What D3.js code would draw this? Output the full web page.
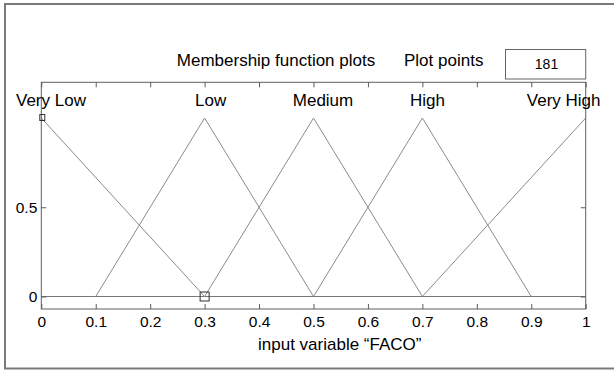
<!DOCTYPE html>
<html>
<head>
<meta charset="utf-8">
<script src="https://cdn.jsdelivr.net/npm/d3@7"></script>
<style>
  html, body { margin: 0; padding: 0; background: #fff; }
  svg { display: block; font-family: Arial, "Liberation Sans", sans-serif; }
</style>
</head>
<body>
<svg id="chart" width="614" height="372"></svg>
<script>
// Membership functions of input variable FACO (triangular: [a, b, c])
const mfNames = ["Very Low", "Low", "Medium", "High", "Very High"];
const mfA = [-0.3, 0.1, 0.3, 0.5, 0.7];
const mfB = [0, 0.3, 0.5, 0.7, 1];
const mfC = [0.3, 0.5, 0.7, 0.9, 1.3];

const xTicks = [0, 0.1, 0.2, 0.3, 0.4, 0.5, 0.6, 0.7, 0.8, 0.9, 1];
const xTickLabels = ["0", "0.1", "0.2", "0.3", "0.4", "0.5", "0.6", "0.7", "0.8", "0.9", "1"];
const yTicks = [0, 0.5];
const yTickLabels = ["0", "0.5"];

const plotPoints = 181;
const selectedMF = 0;

const svg = d3.select("#chart");
const FONT = 17;

// outer panel frame
svg.append("rect")
  .attr("x", 5).attr("y", 4).attr("width", 640).attr("height", 364.5)
  .attr("fill", "none").attr("stroke", "#7a7a7a").attr("stroke-width", 2);

const pLeft = 41.3, pRight = 585.7, pTop = 82.3, pBottom = 309;
const x = d3.scaleLinear().domain([0, 1]).range([pLeft, pRight]);
const y = d3.scaleLinear().domain([-0.07, 1.2]).range([pBottom, pTop]);

// header
svg.append("text").attr("x", 276).attr("y", 66).attr("text-anchor", "middle")
  .attr("font-size", FONT).text("Membership function plots");
svg.append("text").attr("x", 443.7).attr("y", 66).attr("text-anchor", "middle")
  .attr("font-size", FONT).text("Plot points");
svg.append("rect").attr("x", 505.5).attr("y", 49.5).attr("width", 80.2).attr("height", 29.5)
  .attr("fill", "#fff").attr("stroke", "#666").attr("stroke-width", 1);
svg.append("text").attr("x", 546.5).attr("y", 68.5).attr("text-anchor", "middle")
  .attr("font-size", 14).text(plotPoints);

svg.append("defs").append("clipPath").attr("id", "plotclip")
  .append("rect").attr("x", pLeft).attr("y", pTop).attr("width", pRight - pLeft).attr("height", pBottom - pTop);

const g = svg.append("g");

// zero baseline
g.append("line")
  .attr("x1", x(0)).attr("x2", x(1)).attr("y1", y(0)).attr("y2", y(0))
  .attr("stroke", "#777").attr("stroke-width", 1);

// triangular membership functions
const line = d3.line().x(d => x(d[0])).y(d => y(d[1]));
const mfData = mfNames.map((name, i) => ({
  name, pts: [[mfA[i], 0], [mfB[i], 1], [mfC[i], 0]]
}));
g.append("g").attr("clip-path", "url(#plotclip)")
  .selectAll("path").data(mfData).join("path")
  .attr("d", d => line(d.pts))
  .attr("fill", "none").attr("stroke", "#8a8a8a").attr("stroke-width", 1);

// axes box with inward ticks
const tickLen = 5;
g.append("rect").attr("x", pLeft).attr("y", pTop).attr("width", pRight - pLeft).attr("height", pBottom - pTop)
  .attr("fill", "none").attr("stroke", "#5e5e5e").attr("stroke-width", 1);
const xAxisBottom = d3.axisBottom(x).tickValues(xTicks).tickSizeInner(-tickLen).tickSizeOuter(0)
  .tickPadding(7).tickFormat((d, i) => xTickLabels[i]);
const xb = g.append("g").attr("transform", `translate(0,${pBottom})`).call(xAxisBottom);
const xAxisTop = d3.axisTop(x).tickValues(xTicks).tickSizeInner(-tickLen).tickSizeOuter(0).tickFormat("");
const xt = g.append("g").attr("transform", `translate(0,${pTop})`).call(xAxisTop);
const yAxisLeft = d3.axisLeft(y).tickValues(yTicks).tickSizeInner(-tickLen).tickSizeOuter(0)
  .tickPadding(4).tickFormat((d, i) => yTickLabels[i]);
const yl = g.append("g").attr("transform", `translate(${pLeft},0)`).call(yAxisLeft);
const yAxisRight = d3.axisRight(y).tickValues(yTicks).tickSizeInner(-tickLen).tickSizeOuter(0).tickFormat("");
const yr = g.append("g").attr("transform", `translate(${pRight},0)`).call(yAxisRight);
[xb, xt, yl, yr].forEach(a => {
  a.select(".domain").remove();
  a.selectAll("line").attr("stroke", "#5e5e5e");
  a.selectAll("text").attr("font-size", 15.5).attr("fill", "#000")
    .attr("font-family", "Arial, 'Liberation Sans', sans-serif");
});

// membership function names above their peaks (end names kept inside the panel)
const labelDx = [0, 6, 9.5, 5, 0];
g.selectAll("text.mf").data(mfData).join("text").attr("class", "mf")
  .attr("x", (d, i) => i === 0 ? 16 : i === mfNames.length - 1 ? 600.5 : x(mfB[i]) + labelDx[i])
  .attr("y", 106)
  .attr("text-anchor", (d, i) => i === 0 ? "start" : i === mfNames.length - 1 ? "end" : "middle")
  .attr("font-size", FONT).text(d => d.name);

// vertex handles of the selected membership function
const sel = mfData[selectedMF];
g.append("rect").attr("x", x(sel.pts[1][0]) - 1.5).attr("y", y(1) - 3.5).attr("width", 5).attr("height", 6)
  .attr("fill", "none").attr("stroke", "#333");
g.append("rect").attr("x", x(mfC[selectedMF]) - 4.5).attr("y", y(0) - 4.5).attr("width", 9).attr("height", 9)
  .attr("fill", "none").attr("stroke", "#333");

// x-axis title
svg.append("text").attr("x", 258).attr("y", 350).attr("text-anchor", "start")
  .attr("font-size", FONT).text("input variable \u201CFACO\u201D");
</script>
</body>
</html>
